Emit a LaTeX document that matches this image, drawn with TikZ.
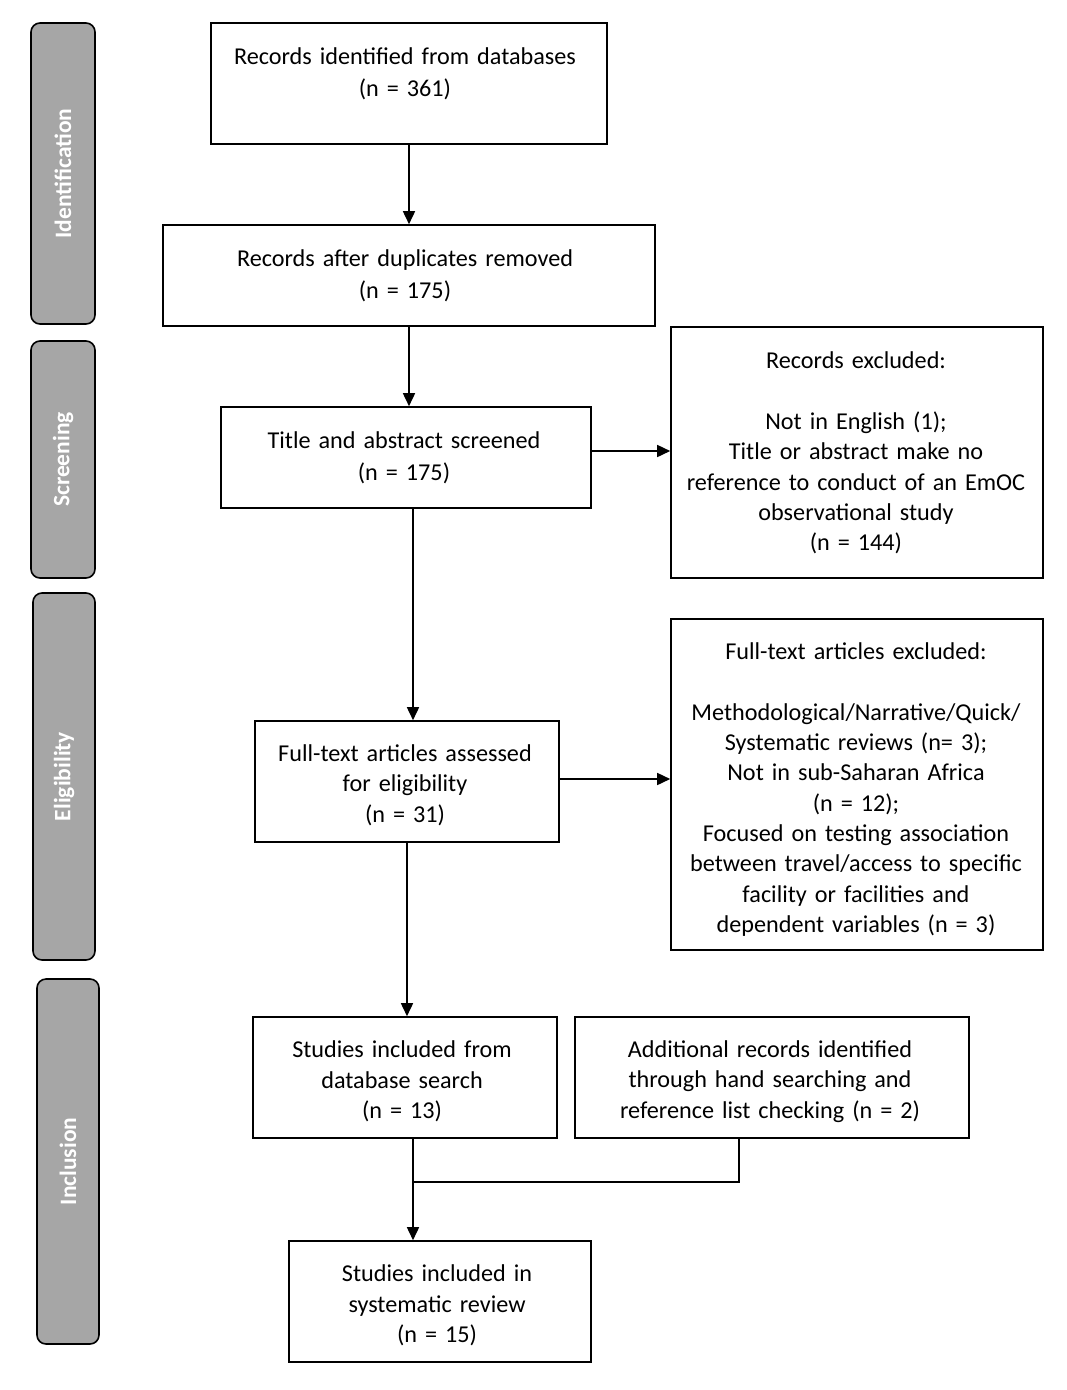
\documentclass[tikz,border=0pt]{standalone}
\usepackage{fontspec}
\setmainfont{Carlito}
\usetikzlibrary{arrows.meta}
\newcommand\widesp{\spaceskip=0.33em plus 0.1em\relax}
\begin{document}
\begin{tikzpicture}[x=1pt,y=-1pt,
  box/.style={draw,line width=1.6pt,inner sep=0pt},
  txt/.style={align=center,font=\fontsize{24.2}{30.3}\selectfont,inner sep=0pt,execute at begin node=\widesp},
  txtw/.style={txt,font=\fontsize{24.2}{32}\selectfont},
  side/.style={draw,line width=1.6pt,fill=gray!70,rounded corners=9pt,inner sep=0pt},
  sidetxt/.style={rotate=90,text=white,font=\fontsize{23.5}{26}\selectfont\bfseries},
  arr/.style={line width=1.6pt,-{Triangle[length=13pt,width=12pt]}},
  ln/.style={line width=1.6pt}]
\useasboundingbox (0,0) rectangle (1066,1390);
% side bars
\node[side,minimum width=64pt,minimum height=301pt] (sid) at (63,173.5) {};
\node[sidetxt] at (sid.center) {Identification};
\node[side,minimum width=64pt,minimum height=237pt] (ssc) at (63,459.5) {};
\node[sidetxt] at (ssc.center) {Screening};
\node[side,minimum width=62pt,minimum height=367pt] (sel) at (64,776.5) {};
\node[sidetxt] at (sel.center) {Eligibility};
\node[side,minimum width=62pt,minimum height=365pt] (sin) at (68,1161.5) {};
\node[sidetxt] at (sin.center) {Inclusion};
% boxes
\node[box,minimum width=396pt,minimum height=121pt] (b1) at (409,83.5) {};
\node[txtw] at (405,74) {Records identified from databases\\(n = 361)};
\node[box,minimum width=492pt,minimum height=101pt] (b2) at (409,275.5) {};
\node[txtw] at (405,276) {Records after duplicates removed\\(n = 175)};
\node[box,minimum width=370pt,minimum height=101pt] (b3) at (406,457.5) {};
\node[txtw] at (404,458) {Title and abstract screened\\(n = 175)};
\node[box,minimum width=372pt,minimum height=251pt] (b4) at (857,452.5) {};
\node[txt] at (856,453) {Records excluded:\\[30.3pt]Not in English (1);\\Title or abstract make no\\reference to conduct of an EmOC\\observational study\\(n = 144)};
\node[box,minimum width=304pt,minimum height=121pt] (b5) at (407,781.5) {};
\node[txt] at (405,785) {Full-text articles assessed\\for eligibility\\(n = 31)};
\node[box,minimum width=372pt,minimum height=331pt] (b6) at (857,784.5) {};
\node[txt] at (856,789.5) {Full-text articles excluded:\\[30.3pt]Methodological/Narrative/Quick/\\Systematic reviews (n= 3);\\Not in sub-Saharan Africa\\(n = 12);\\Focused on testing association\\between travel/access to specific\\facility or facilities and\\dependent variables (n = 3)};
\node[box,minimum width=304pt,minimum height=121pt] (b7) at (405,1077.5) {};
\node[txt] at (402,1081.5) {Studies included from\\database search\\(n = 13)};
\node[box,minimum width=394pt,minimum height=121pt] (b8) at (772,1077.5) {};
\node[txt] at (770,1081.5) {Additional records identified\\through hand searching and\\reference list checking (n = 2)};
\node[box,minimum width=302pt,minimum height=121pt] (b9) at (440,1301.5) {};
\node[txt] at (437,1305.5) {Studies included in\\systematic review\\(n = 15)};
% arrows
\draw[arr] (b1.south) -- (b2.north);
\draw[arr] (b2.south) -- (b2.south |- b3.north);
\draw[arr] ([yshift=6.5pt]b3.east) -- ([yshift=6.5pt]b3.east -| b4.west);
\draw[arr] ([xshift=7pt]b3.south) -- ([xshift=7pt]b3.south |- b5.north);
\draw[arr] ([yshift=2.5pt]b5.east) -- ([yshift=2.5pt]b5.east -| b6.west);
\draw[arr] (b5.south) -- (b5.south |- b7.north);
\coordinate (j) at (413,1182);
\coordinate (k) at (739,1182);
\draw[arr] (b7.south -| j) -- (b9.north -| j);
\draw[ln] (b8.south -| k) -- (k) -- (j);
\end{tikzpicture}
\end{document}
